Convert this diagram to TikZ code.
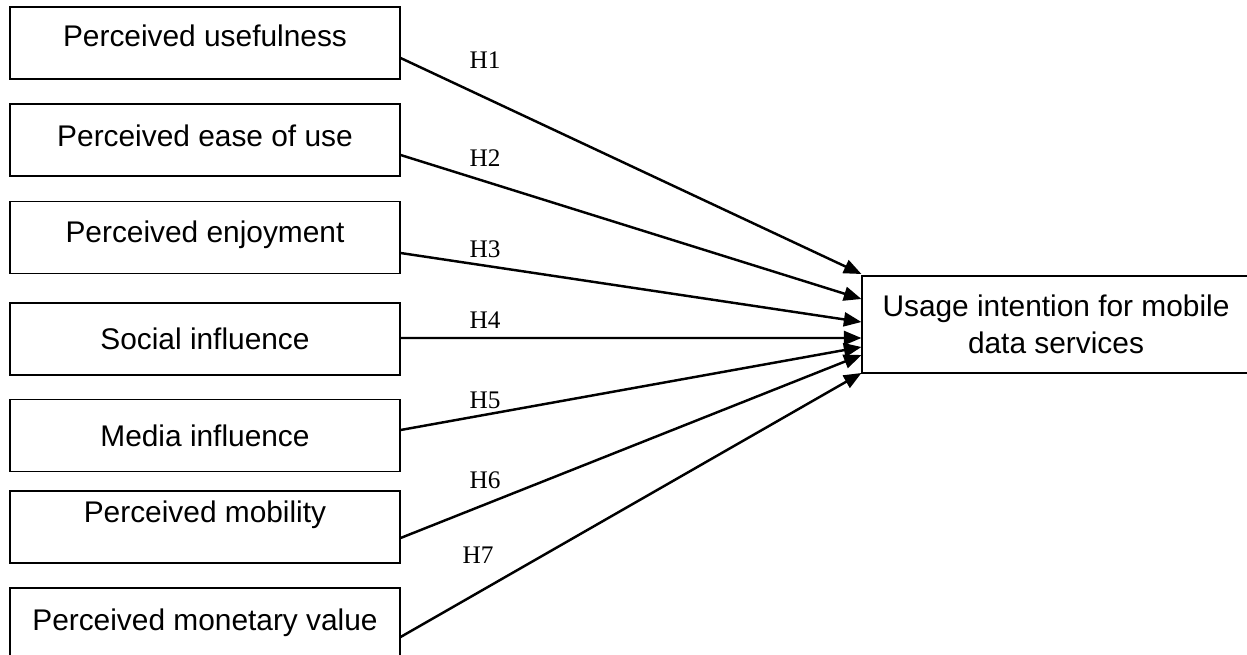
\documentclass[tikz,border=0pt]{standalone}
\usepackage{fontspec}
\setmainfont{Liberation Serif}
\newfontfamily\arialfont{Liberation Sans}
\usetikzlibrary{arrows.meta,calc}

\begin{document}
\begin{tikzpicture}[x=0.02cm, y=-0.02cm,
        factor/.style={draw, line width=0.7pt, minimum width=7.8cm, minimum height=1.44cm, inner sep=0pt,
            font=\arialfont\fontsize{17}{20}\selectfont, text height=12pt, text depth=#1},
        factor/.default=0pt,
        hyp/.style={inner sep=0pt, font=\fontsize{14.4}{17}\selectfont},
        link/.style={line width=1.4pt, -{Triangle[length=10pt,width=8pt]}}]
        \clip (0,0) rectangle (1247,655);

        \node[factor=8pt] (u1) at (205,43) {Perceived usefulness};
        \node[factor=5.1pt] (u2) at (205,140) {Perceived ease of use};
        \node[factor=6.3pt] (u3) at (205,237.5) {Perceived enjoyment};
        \node[factor] (u4) at (205,339) {Social influence};
        \node[factor] (u5) at (205,435.5) {Media influence};
        \node[factor=17pt] (u6) at (205,527) {Perceived mobility};
        \node[factor=4.6pt] (u7) at (205,624) {Perceived monetary value};

        \node[draw, line width=0.7pt, minimum width=7.76cm, minimum height=1.94cm, align=center,
            font=\arialfont\fontsize{17}{21}\selectfont] (intent) at (1056,324.5) {Usage intention for mobile\\data services};

        \node[hyp] (h1) at (485,60) {H1};
        \node[hyp] (h2) at (485,158) {H2};
        \node[hyp] (h3) at (485,249) {H3};
        \node[hyp] (h4) at (485,320) {H4};
        \node[hyp] (h5) at (485,400) {H5};
        \node[hyp] (h6) at (485,480) {H6};
        \node[hyp] (h7) at (478,555) {H7};

        \draw[link] ($(u1.east)+(0,15)$) -- ($(intent.west)+(0,-50.5)$);
        \draw[link] ($(u2.east)+(0,15)$) -- ($(intent.west)+(0,-25.5)$);
        \draw[link] ($(u3.east)+(0,15.5)$) -- ($(intent.west)+(0,-2.5)$);
        \draw[link] ($(u4.east)+(0,-1)$) -- ($(intent.west)+(0,13.5)$);
        \draw[link] ($(u5.east)+(0,-5.5)$) -- ($(intent.west)+(0,22.5)$);
        \draw[link] ($(u6.east)+(0,11)$) -- ($(intent.west)+(0,30.5)$);
        \draw[link] ($(u7.east)+(0,13)$) -- ($(intent.west)+(0,48.5)$);
    \end{tikzpicture}
\end{document}
